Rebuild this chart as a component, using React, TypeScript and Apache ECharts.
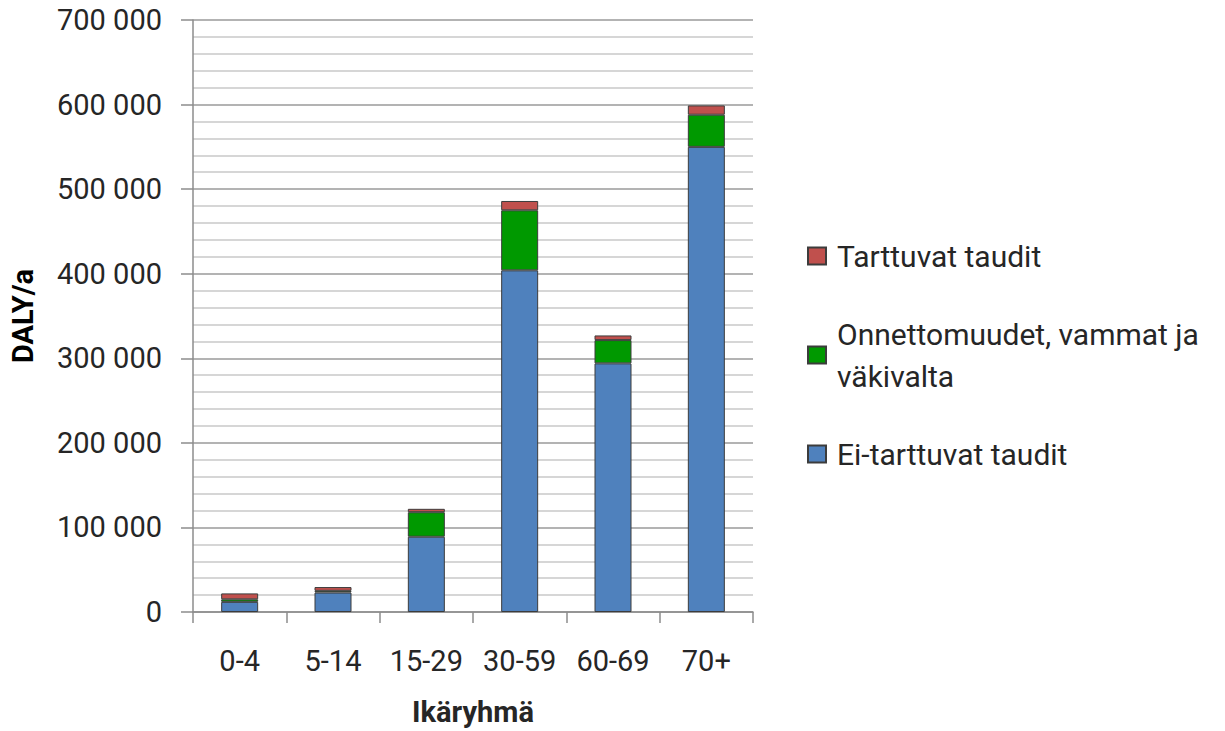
import React, { useEffect, useRef } from "react";
import * as echarts from "echarts";

// Age groups on the x axis
const ageGroups = ["0-4", "5-14", "15-29", "30-59", "60-69", "70+"];

// DALY per year by cause group
const nonCommunicable = [12000, 23000, 89000, 404000, 294000, 550000];
const injuries = [3000, 2000, 29000, 71000, 27500, 38000];
const communicable = [7000, 4500, 4000, 11000, 5500, 11000];

const seriesNames = {
  red: "Tarttuvat taudit",
  green: "Onnettomuudet, vammat ja\nväkivalta",
  blue: "Ei-tarttuvat taudit",
};

const FONT = "Roboto";
const TEXT = "#262626";

const formatThousands = (v: number) =>
  String(v).replace(/\B(?=(\d{3})+(?!\d))/g, " ");

export default function App() {
  const ref = useRef<HTMLDivElement>(null);

  useEffect(() => {
    if (!ref.current) return;
    const chart = echarts.init(ref.current, undefined, { renderer: "svg" });

    const border = { borderColor: "#3c3c3c", borderWidth: 1 };
    const legendBase = {
      orient: "vertical" as const,
      left: 807,
      padding: 0,
      itemWidth: 18,
      itemHeight: 17,
      icon: "rect",
      selectedMode: false,
    };
    const legendText = {
      fontFamily: FONT,
      fontSize: 30,
      color: TEXT,
      lineHeight: 42,
    };

    chart.setOption({
      animation: false,
      backgroundColor: "#ffffff",
      grid: { left: 193, right: 472, top: 20, bottom: 114 },
      legend: [
        {
          ...legendBase,
          top: 235,
          data: [seriesNames.red],
          textStyle: { ...legendText, padding: [0, 0, 0, 6] },
        },
        {
          ...legendBase,
          top: 292,
          data: [seriesNames.green],
          textStyle: { ...legendText, padding: [42, 0, 0, 6] },
        },
        {
          ...legendBase,
          top: 433,
          data: [seriesNames.blue],
          textStyle: { ...legendText, padding: [0, 0, 0, 6] },
        },
      ],
      xAxis: {
        type: "category",
        data: ageGroups,
        name: "Ikäryhmä",
        nameLocation: "middle",
        nameGap: 85,
        nameTextStyle: {
          fontFamily: FONT,
          fontSize: 29,
          fontWeight: "bold",
          color: TEXT,
        },
        axisLine: { lineStyle: { color: "#8c8c8c", width: 1.5 } },
        axisTick: {
          show: true,
          interval: 0,
          length: 11,
          alignWithLabel: false,
          lineStyle: { color: "#8c8c8c", width: 1.5 },
        },
        axisLabel: {
          interval: 0,
          fontFamily: FONT,
          fontSize: 29,
          color: TEXT,
          margin: 34,
        },
      },
      yAxis: {
        type: "value",
        min: 0,
        max: 700000,
        interval: 100000,
        name: "DALY/a",
        nameLocation: "middle",
        nameGap: 156,
        nameRotate: 90,
        nameTextStyle: {
          fontFamily: FONT,
          fontSize: 29,
          fontWeight: "bold",
          color: "#000000",
        },
        axisLine: { show: true, lineStyle: { color: "#8c8c8c", width: 1.5 } },
        axisTick: {
          show: true,
          length: 12,
          lineStyle: { color: "#8c8c8c", width: 1.5 },
        },
        axisLabel: {
          fontFamily: FONT,
          fontSize: 29,
          color: TEXT,
          margin: 31,
          formatter: (v: number) => formatThousands(v),
        },
        splitLine: { lineStyle: { color: "#9a9a9a", width: 1.5 } },
        minorTick: { show: false, splitNumber: 5 },
        minorSplitLine: {
          show: true,
          lineStyle: { color: "#c9c9c9", width: 1.5 },
        },
      },
      series: [
        {
          name: seriesNames.blue,
          type: "bar",
          stack: "daly",
          barWidth: 37,
          data: nonCommunicable,
          itemStyle: { color: "#4f81bd", ...border },
        },
        {
          name: seriesNames.green,
          type: "bar",
          stack: "daly",
          barWidth: 37,
          data: injuries,
          itemStyle: { color: "#009900", ...border },
        },
        {
          name: seriesNames.red,
          type: "bar",
          stack: "daly",
          barWidth: 37,
          data: communicable,
          itemStyle: { color: "#c0504d", ...border },
        },
      ],
    });

    return () => chart.dispose();
  }, []);

  return (
    <div
      ref={ref}
      style={{ position: "fixed", left: 0, top: 0, width: 1225, height: 731 }}
    />
  );
}
